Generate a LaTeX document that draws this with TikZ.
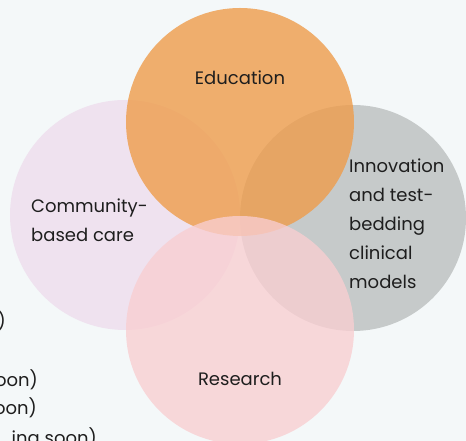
\documentclass[tikz,border=0pt]{standalone}
\usepackage{fontspec}
\setmainfont{Poppins}
\usepackage{xcolor}
\usetikzlibrary{positioning}

\definecolor{bgcol}{HTML}{F4F8F9}
\definecolor{educol}{HTML}{EE9C4B}
\definecolor{comcol}{HTML}{EFE2EF}
\definecolor{innocol}{HTML}{C6CACA}
\definecolor{rescol}{HTML}{F9CED1}
\definecolor{inkcol}{HTML}{1E1E1E}

\begin{document}
\begin{tikzpicture}[x=1pt, y=1pt,
    venn/.style={circle, draw=none, inner sep=0pt},
    txt/.style={font=\fontsize{18}{29.2}\selectfont, text=inkcol, inner sep=0pt}]
    % page and background
    \useasboundingbox (0,0) rectangle (466,441);
    \clip (0,0) rectangle (466,441);
    \fill[bgcol] (0,0) rectangle (466,441);

    % text cut off at the left edge
    \node[txt, anchor=base east] (frag1) at (6,113) {)};
    \node[txt, anchor=base east] (frag2) at (38,54) {oon)};
    \node[txt, anchor=base east] (frag3) at (37,26) {oon)};
    \node[txt, anchor=base east] (frag4) at (97,-4) {ing soon)};

    % the four circles
    \node[venn, fill=comcol, minimum size=230pt] (com) at (125,226) {};
    \node[venn, fill=innocol, minimum size=226pt] (inno) at (353,223) {};
    \node[venn, fill=educol, fill opacity=0.8, minimum size=228pt] (edu) at (240,319) {};
    \node[venn, fill=rescol, fill opacity=0.78, minimum size=228pt] (res) at (240,111) {};

    % labels
    \node[txt, anchor=base] (edutxt) at ([yshift=-77pt]edu.north) {Education};
    \node[txt, anchor=base west, align=left] (comtxt) at (31,199) {Community-\\based care};
    \node[txt, anchor=base west, align=left] (innotxt) at (349,152)
        {Innovation\\and test-\\bedding\\clinical\\models};
    \node[txt, anchor=base] (restxt) at ([yshift=59pt]res.south) {Research};
\end{tikzpicture}
\end{document}
